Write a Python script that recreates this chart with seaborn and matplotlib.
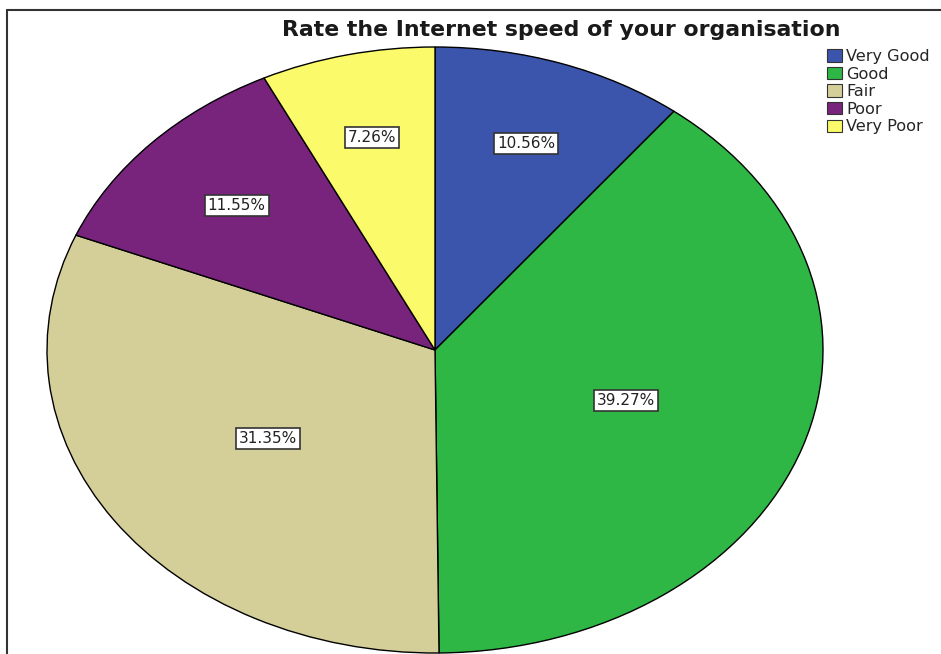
import matplotlib
matplotlib.use("Agg")
import matplotlib.pyplot as plt
import seaborn as sns
import numpy as np
from matplotlib.patches import Patch
from matplotlib.lines import Line2D

sns.set_theme(style="white")
plt.rcParams['font.family'] = ['DejaVu Sans']

categories = ["Very Good", "Good", "Fair", "Poor", "Very Poor"]
percentages = [10.56, 39.27, 31.35, 11.55, 7.26]
colors = ["#3b55ad", "#2eb745", "#d4cf98", "#78237c", "#fafa6a"]
label_dist = [0.72, 0.52, 0.52, 0.70, 0.72]
title = "Rate the Internet speed of your organisation"

W, H = 941, 654
fig = plt.figure(figsize=(W / 100, H / 100), dpi=100)
fig.patch.set_facecolor("white")

cx, cy, rx, ry = 435, 350, 388, 303
ax = fig.add_axes([(cx - rx) / W, (H - cy - ry) / H, 2 * rx / W, 2 * ry / H])
wedges, _ = ax.pie(percentages, colors=colors, startangle=90, counterclock=False,
                   radius=1.0, wedgeprops=dict(edgecolor="black", linewidth=1.0))
for w in wedges:
    w.set_clip_on(False)
ax.set_aspect("auto")
ax.set_xlim(-1, 1)
ax.set_ylim(-1, 1)
ax.axis("off")

for w, p, d in zip(wedges, percentages, label_dist):
    ang = np.deg2rad((w.theta1 + w.theta2) / 2)
    ax.text(d * np.cos(ang), d * np.sin(ang), f"{p:.2f}%", ha="center", va="center",
            fontsize=11, color="#222222",
            bbox=dict(boxstyle="square,pad=0.2", facecolor="white", edgecolor="#333333", linewidth=1.2))

fig.text(561 / W, 1 - 30 / H, title, ha="center", va="center", fontsize=15.8,
         fontweight="bold", color="#1a1a1a")

handles = [Patch(facecolor=c, edgecolor="#333333", linewidth=0.8) for c in colors]
fig.legend(handles, categories, loc="upper left", bbox_to_anchor=(827 / W, 1 - 49 / H),
           frameon=False, fontsize=11.6, handlelength=0.95, handleheight=0.8,
           handletextpad=0.25, labelspacing=0.16, borderpad=0, borderaxespad=0)

fig.add_artist(Line2D([7 / W, 1], [1 - 10 / H, 1 - 10 / H], transform=fig.transFigure,
                      color="#333333", linewidth=1.5))
fig.add_artist(Line2D([7 / W, 7 / W], [0, 1 - 10 / H], transform=fig.transFigure,
                      color="#333333", linewidth=1.5))

fig.savefig("out.png", dpi=100)
